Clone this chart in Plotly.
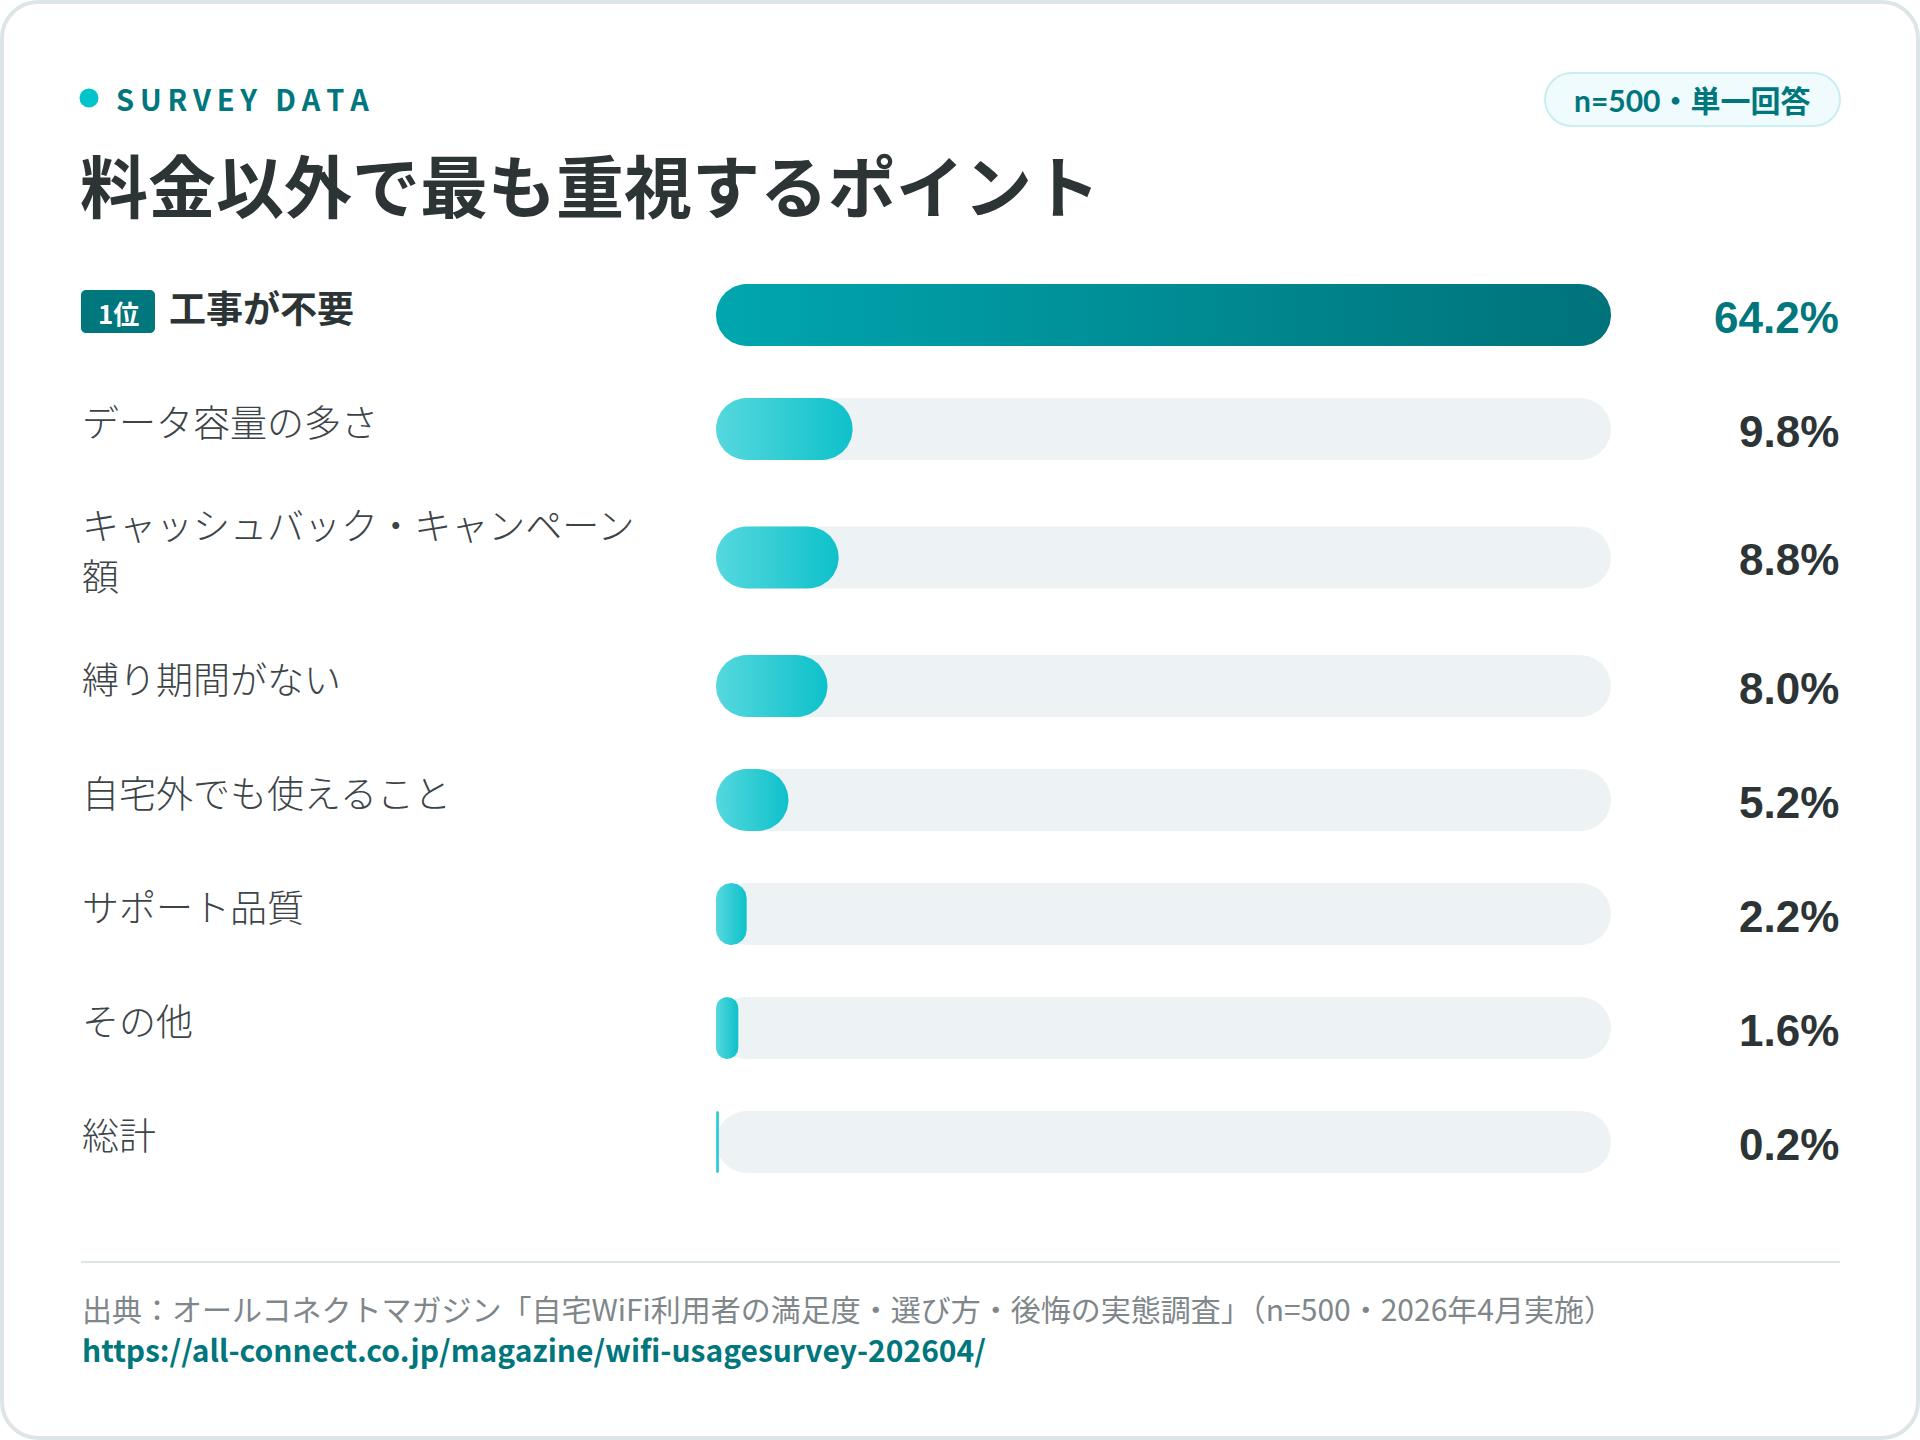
import numpy as np
import plotly.graph_objects as go

# data
labels = ["工事が不要", "データ容量の多さ", "キャッシュバック・キャンペーン額", "縛り期間がない",
          "自宅外でも使えること", "サポート品質", "その他", "総計"]
values = [64.2, 9.8, 8.8, 8.0, 5.2, 2.2, 1.6, 0.2]

eyebrow = "SURVEY DATA"
title = "料金以外で最も重視するポイント"
badge = "n=500・単一回答"
source = "出典：オールコネクトマガジン「自宅WiFi利用者の満足度・選び方・後悔の実態調査」（n=500・2026年4月実施）"
url = "https://all-connect.co.jp/magazine/wifi-usagesurvey-202604/"

W, H = 1920, 1440
TRACK_X0, TRACK_X1 = 716, 1611
BAR_H = 62
ROW0_Y = 315
ROW_PITCH = 114
EXTRA_LINE = 29
LINE_H = 51
LABEL_X = 80
LABEL_SIZE = 37
LABEL_COL = 570

CJK = "Noto Sans CJK JP"
TEAL = "#00767d"
DARK = "#2d3436"

max_v = max(values)
ppu = (TRACK_X1 - TRACK_X0) / max_v  # px per percent


def wrap(s, n):
    return [s[i:i + n] for i in range(0, len(s), n)]


def pill(x0, x1, yc, h=BAR_H, seg=24):
    w = (x1 - x0) * ppu
    r = min(h / 2, w / 2)
    xs, ys = [], []
    corners = [(w - r, yc - h / 2 + r, -np.pi / 2, 0),
               (w - r, yc + h / 2 - r, 0, np.pi / 2),
               (r, yc + h / 2 - r, np.pi / 2, np.pi),
               (r, yc - h / 2 + r, np.pi, 1.5 * np.pi)]
    for cx, cy, a0, a1 in corners:
        t = np.linspace(a0, a1, seg)
        xs += list(x0 + (cx + r * np.cos(t)) / ppu)
        ys += list(cy + r * np.sin(t))
    xs.append(xs[0])
    ys.append(ys[0])
    return xs, ys


def rrect(x0, y0, x1, y1, r):
    k = 0.5523 * r
    X = lambda v: f"{v / W:.6f}"
    p = [f"M{X(x0 + r)},{y0}", f"L{X(x1 - r)},{y0}",
         f"C{X(x1 - r + k)},{y0} {X(x1)},{y0 + r - k} {X(x1)},{y0 + r}",
         f"L{X(x1)},{y1 - r}",
         f"C{X(x1)},{y1 - r + k} {X(x1 - r + k)},{y1} {X(x1 - r)},{y1}",
         f"L{X(x0 + r)},{y1}",
         f"C{X(x0 + r - k)},{y1} {X(x0)},{y1 - r + k} {X(x0)},{y1 - r}",
         f"L{X(x0)},{y0 + r}",
         f"C{X(x0)},{y0 + r - k} {X(x0 + r - k)},{y0} {X(x0 + r)},{y0}", "Z"]
    return " ".join(p)


chars = LABEL_COL // LABEL_SIZE
wrapped = [wrap(s, chars) for s in labels]
lines = [len(w) for w in wrapped]
blocks = [ROW_PITCH + EXTRA_LINE * (n - 1) for n in lines]
centers = [ROW0_Y]
for i in range(1, len(labels)):
    centers.append(centers[-1] + blocks[i - 1] / 2 + blocks[i] / 2)

fig = go.Figure()

# tracks
for yc in centers:
    xs, ys = pill(0, max_v, yc)
    fig.add_trace(go.Scatter(x=xs, y=ys, mode="lines", fill="toself", fillcolor="#edf2f5",
                             line=dict(width=0), hoverinfo="skip", showlegend=False))

# bars
for i, (v, yc) in enumerate(zip(values, centers)):
    xs, ys = pill(0, v, yc)
    cs = [[0, "#00a6af"], [1, "#00727a"]] if i == 0 else [[0, "#55d8de"], [1, "#0ec1ca"]]
    fig.add_trace(go.Scatter(x=xs, y=ys, mode="lines", fill="toself",
                             fillgradient=dict(type="horizontal", colorscale=cs),
                             line=dict(width=0), hoverinfo="skip", showlegend=False))

ann = []
shapes = []

# card
shapes.append(dict(type="path", xref="paper", yref="y", path=rrect(2, 2, 1918, 1438, 36),
                   fillcolor="white", line=dict(color="#dde5e9", width=4), layer="below"))

# eyebrow
shapes.append(dict(type="circle", xref="paper", yref="y", x0=(89 - 9.5) / W, x1=(89 + 9.5) / W,
                   y0=98 - 9.5, y1=98 + 9.5, fillcolor="#00c4cc", line=dict(width=0)))
ann.append(dict(x=114 / W, y=98, xref="paper", yref="y", xanchor="left", yanchor="middle",
                text="\u2009".join(eyebrow),
                font=dict(family=CJK, size=29, color=TEAL, weight=700), showarrow=False))

# title
ann.append(dict(x=78 / W, y=183, xref="paper", yref="y", xanchor="left", yanchor="middle",
                text=title, font=dict(family=CJK, size=68, color=DARK, weight=700), showarrow=False))

# sample badge
shapes.append(dict(type="path", xref="paper", yref="y", path=rrect(1545, 73, 1840, 126, 26.5),
                   fillcolor="#effbfc", line=dict(color="#c9eef1", width=2)))
ann.append(dict(x=1692.5 / W, y=100, xref="paper", yref="y", xanchor="center", yanchor="middle",
                text=badge, font=dict(family="Lato, " + CJK, size=30, color=TEAL, weight=700),
                showarrow=False))

# row labels + values
for i, (lab, v, yc) in enumerate(zip(wrapped, values, centers)):
    if i == 0:
        shapes.append(dict(type="path", xref="paper", yref="y", path=rrect(81, yc - 25, 155, yc + 18, 5),
                           fillcolor=TEAL, line=dict(width=0)))
        ann.append(dict(x=118 / W, y=yc - 3, xref="paper", yref="y", xanchor="center", yanchor="middle",
                        text=f"{i + 1}位", font=dict(family=CJK, size=26, color="white", weight=700),
                        showarrow=False))
        ann.append(dict(x=167 / W, y=yc - 8, xref="paper", yref="y", xanchor="left", yanchor="middle",
                        text="".join(lab), font=dict(family=CJK, size=37, color=DARK, weight=700),
                        showarrow=False))
    else:
        top = yc - 8 - LINE_H * (len(lab) - 1) / 2
        for j, part in enumerate(lab):
            ann.append(dict(x=LABEL_X / W, y=top + j * LINE_H, xref="paper", yref="y",
                            xanchor="left", yanchor="middle", text=part,
                            font=dict(family=CJK, size=LABEL_SIZE, color="#3c4448", weight=300),
                            showarrow=False))
    ann.append(dict(x=1841 / W, y=yc + 2, xref="paper", yref="y", xanchor="right", yanchor="middle",
                    text=f"{v:.1f}%",
                    font=dict(family="Liberation Sans", size=44, color=TEAL if i == 0 else DARK, weight=700),
                    showarrow=False))

# footer
shapes.append(dict(type="line", xref="paper", yref="y", x0=81 / W, x1=1840 / W, y0=1262, y1=1262,
                   line=dict(color="#dde5e9", width=2)))
ann.append(dict(x=LABEL_X / W, y=1308, xref="paper", yref="y", xanchor="left", yanchor="middle",
                text=source, font=dict(family=CJK, size=30, color="#7f878b"), showarrow=False))
ann.append(dict(x=LABEL_X / W, y=1349, xref="paper", yref="y", xanchor="left", yanchor="middle",
                text=url, font=dict(family=CJK, size=30, color=TEAL, weight=700), showarrow=False))

fig.update_layout(
    width=W, height=H,
    margin=dict(l=0, r=0, t=0, b=0),
    paper_bgcolor="white", plot_bgcolor="rgba(0,0,0,0)",
    xaxis=dict(domain=[TRACK_X0 / W, TRACK_X1 / W], range=[0, max_v], visible=False, fixedrange=True),
    yaxis=dict(domain=[0, 1], range=[H, 0], visible=False, fixedrange=True),
    shapes=shapes, annotations=ann, showlegend=False,
)

fig.write_html("out.html", config={"displayModeBar": False},
               post_script="document.body.style.margin='0';")
